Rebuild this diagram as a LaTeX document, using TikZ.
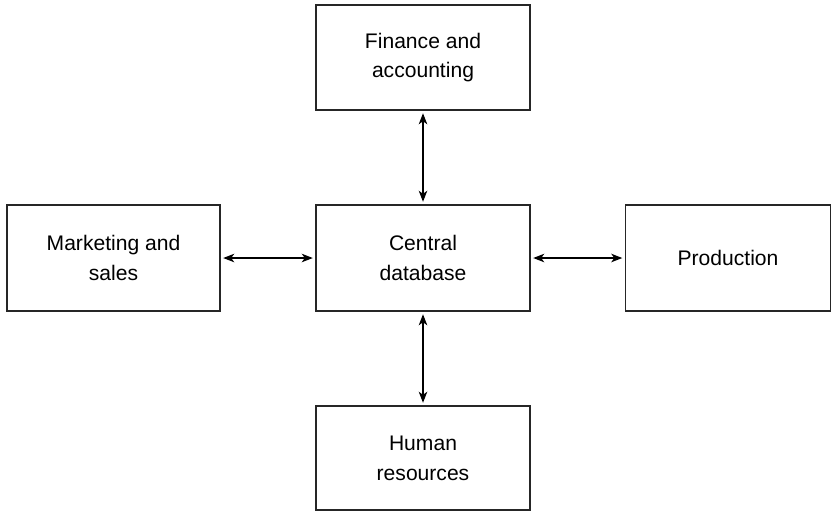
\documentclass[tikz,border=0pt]{standalone}
\usepackage{fontspec}
\setmainfont{Liberation Sans}
\usepackage{tikz}
\usetikzlibrary{arrows.meta,positioning,calc}

\begin{document}
\begin{tikzpicture}[x=0.02cm,y=-0.02cm,
    dept/.style={draw=black!85, line width=0.7pt, align=center, inner sep=0pt,
        minimum height=2.12cm, font=\fontsize{12}{17}\selectfont},
    link/.style={<->, line width=0.7pt, shorten <=1.5pt, shorten >=1.5pt,
        >={Stealth[length=2.2mm,width=1.7mm,inset=0.6mm]}}]
    \useasboundingbox (0,0) rectangle (835,512);

    % the departments round the database
    \node[dept, minimum width=4.28cm] (cdb) at (423,258) {Central\\database};
    \node[dept, minimum width=4.28cm, minimum height=2.1cm] (fin) at (423,57.5) {Finance and\\accounting};
    \node[dept, minimum width=4.26cm] (mkt) at (113.5,258) {Marketing and\\sales};
    \node[dept, minimum width=4.1cm] (prod) at (728,258) {Production};
    \node[dept, minimum width=4.28cm, minimum height=2.08cm] (hr) at (423,458) {Human\\resources};

    % the two-way links
    \draw[link] (cdb) -- (fin);
    \draw[link] (cdb) -- (hr);
    \draw[link] (cdb) -- (mkt);
    \draw[link] (cdb) -- (prod);

\end{tikzpicture}
\end{document}
